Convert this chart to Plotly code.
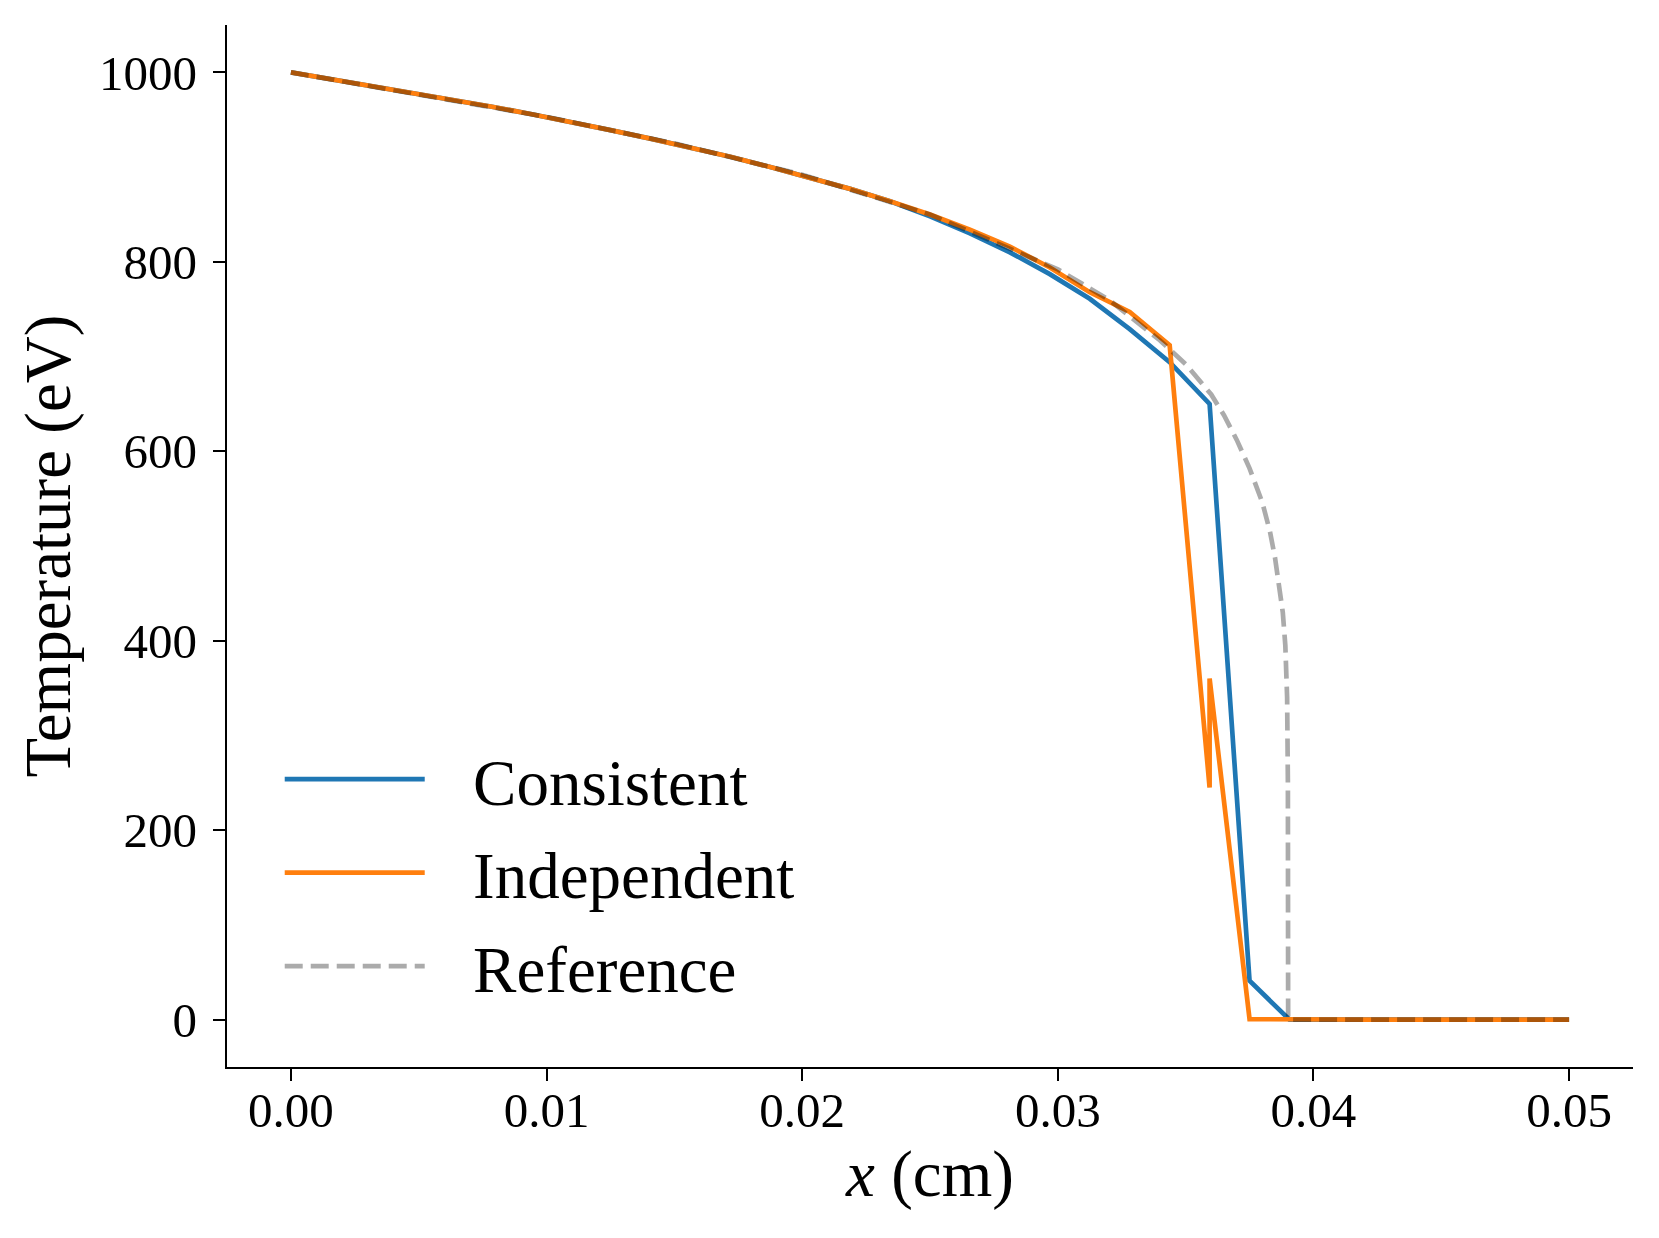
import plotly.graph_objects as go

# grid of cell edges used by both solvers (dx = 0.05/32)
x_grid = [i * 0.0015625 for i in range(33)]

# Consistent solution (blue)
t_consistent = [1000, 993, 986, 979, 971, 964, 956, 948, 939, 930, 921, 911,
                900, 889, 877, 864, 848, 830, 810, 787, 761, 729, 694, 650,
                41, 0, 0, 0, 0, 0, 0, 0, 0]

# Independent solution (orange) - has a double value at x = 0.0359375
x_indep = x_grid[:24] + [x_grid[23]] + x_grid[24:]
t_indep = [1000, 993, 986, 979, 971, 964, 956, 948, 939, 930, 921, 911,
           900, 889, 877, 864, 850, 834, 816, 794, 768, 747, 712, 245,
           360, 0.5, 0, 0, 0, 0, 0, 0, 0, 0]

# Reference (analytic) curve
x_ref = [0.0, 0.005, 0.01, 0.015, 0.02, 0.025, 0.03, 0.032, 0.034, 0.035,
         0.036, 0.0365, 0.037, 0.0375, 0.038, 0.0383, 0.0385, 0.0388, 0.0389,
         0.03897, 0.0390, 0.03901, 0.05]
t_ref = [1000, 977, 953, 925, 892, 850, 792, 760, 717, 692,
         660, 638, 612, 582, 546, 515, 487, 430, 395,
         340, 250, 0, 0]

gap = "\u2002\u2006"  # space between legend line and label

fig = go.Figure()
fig.add_trace(go.Scatter(x=x_grid, y=t_consistent, mode="lines", name=gap + "Consistent",
                         legendgroup="a", line=dict(color="#1f77b4", width=4.7)))
fig.add_trace(go.Scatter(x=x_indep, y=t_indep, mode="lines", name=gap + "Independent",
                         legendgroup="b", line=dict(color="#ff7f0e", width=4.7)))
fig.add_trace(go.Scatter(x=x_ref, y=t_ref, mode="lines", name=gap + "Reference",
                         legendgroup="c",
                         line=dict(color="rgba(0,0,0,0.33)", width=4.7, dash="18px,8px")))

font = "Liberation Serif, Times New Roman, serif"
axis_style = dict(showline=True, linecolor="black", linewidth=2.3, mirror=False,
                  ticks="outside", ticklen=12, tickwidth=2.3, tickcolor="black",
                  showgrid=False, zeroline=False,
                  tickfont=dict(family=font, size=49, color="black"))

fig.update_layout(
    width=1659, height=1238,
    margin=dict(l=219, r=34, t=17, b=179),
    plot_bgcolor="white", paper_bgcolor="white",
    font=dict(family=font, color="black"),
    xaxis=dict(range=[-0.0025, 0.0525], tickvals=[0, 0.01, 0.02, 0.03, 0.04, 0.05],
               tickformat=".2f", ticklabelstandoff=-13,
               title=dict(text="<i>x</i> (cm)", font=dict(family=font, size=65), standoff=14),
               **axis_style),
    yaxis=dict(range=[-50, 1050], tickvals=[0, 200, 400, 600, 800, 1000],
               ticklabelstandoff=6,
               title=dict(text="Temperature (eV)", font=dict(family=font, size=65), standoff=7),
               **axis_style),
    legend=dict(x=0.0375, y=0.323, xanchor="left", yanchor="top",
                font=dict(family=font, size=65, color="black"),
                itemwidth=140, tracegroupgap=6, bgcolor="rgba(0,0,0,0)"),
)

fig.write_html("out.html")
